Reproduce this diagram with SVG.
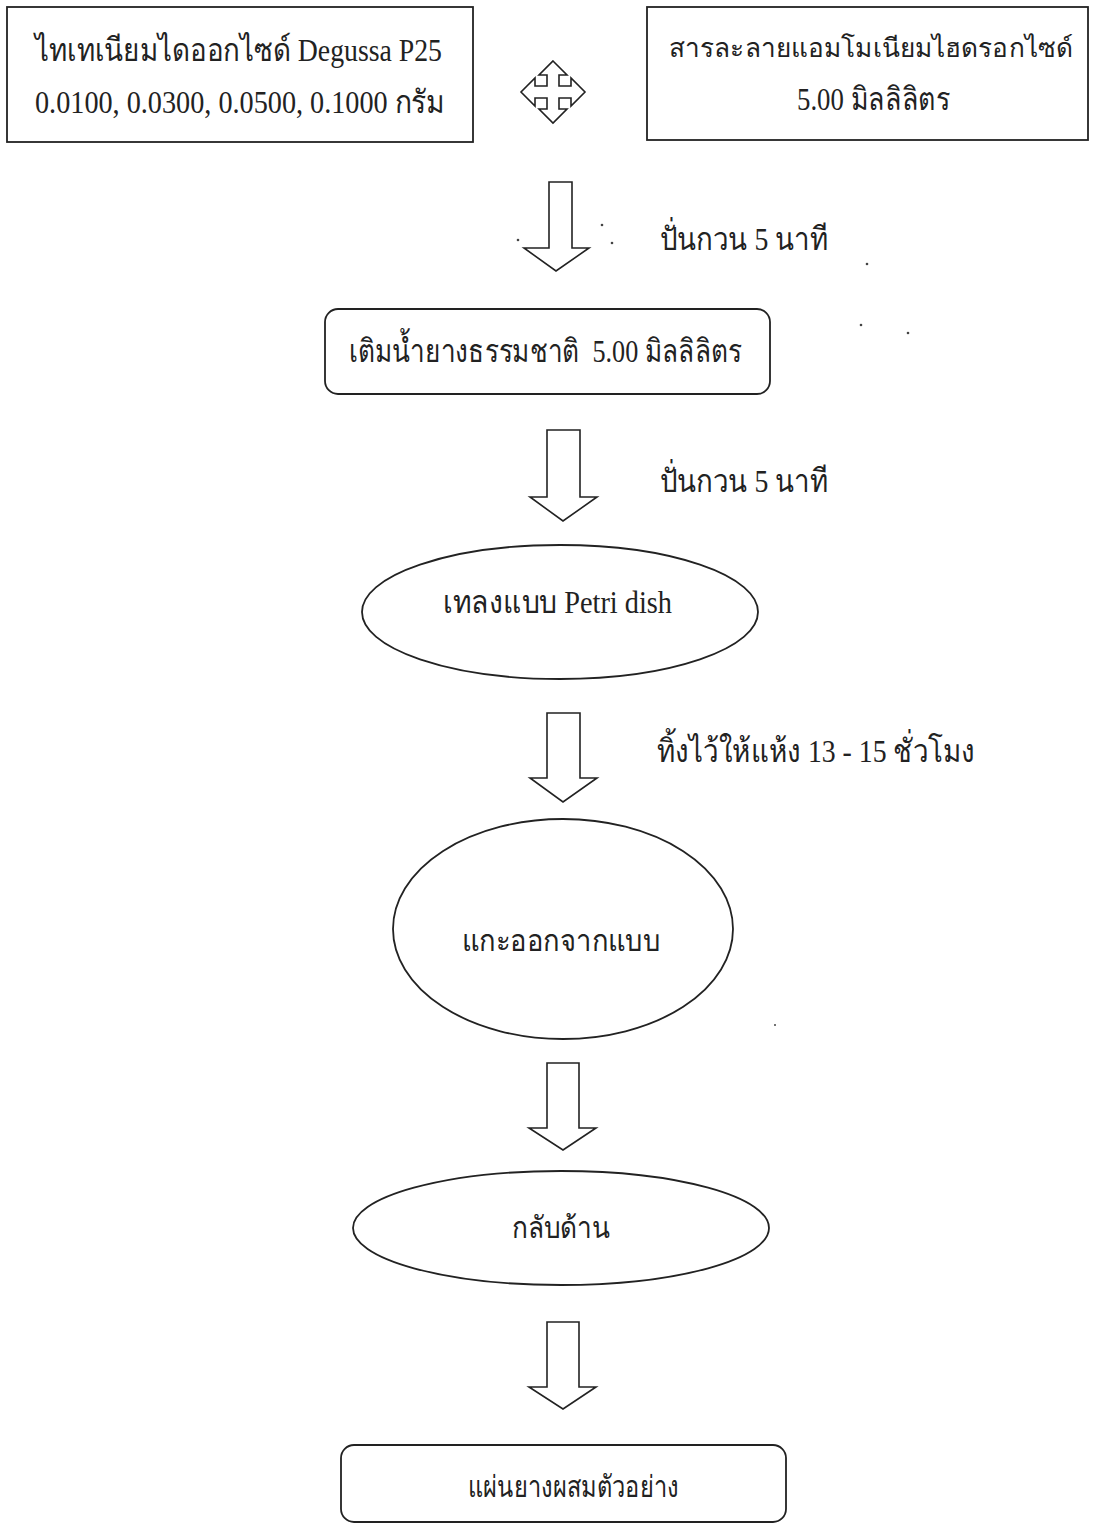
<svg xmlns="http://www.w3.org/2000/svg" width="1104" height="1524" viewBox="0 0 1104 1524">
<style>
.box{fill:#fff;stroke:#222;stroke-width:1.8}
.arr{fill:#fff;stroke:#222;stroke-width:1.6;stroke-linejoin:miter}
.t{font-family:"Liberation Serif","Noto Sans CJK SC",serif;font-size:32px;fill:#222;white-space:pre}
.s{font-family:"Liberation Sans","Noto Sans CJK SC",sans-serif;font-size:30px;fill:#222;white-space:pre}
.dot{fill:#444}
</style>
<rect width="1104" height="1524" fill="#fff"/>
<g id="node-tio2">
<rect class="box" x="7" y="7" width="466" height="135"/>
<text class="t" x="35" y="61" textLength="407" lengthAdjust="spacingAndGlyphs">ไทเทเนียมไดออกไซด์ Degussa P25</text>
<text class="t" x="35" y="113" textLength="410" lengthAdjust="spacingAndGlyphs">0.0100, 0.0300, 0.0500, 0.1000 กรัม</text>
</g>
<g id="node-ammonia">
<rect class="box" x="647" y="7" width="441" height="133"/>
<text class="t" x="669" y="57" textLength="404" lengthAdjust="spacingAndGlyphs" style="font-size:26px">สารละลายแอมโมเนียมไฮดรอกไซด์</text>
<text class="t" x="797" y="110" textLength="153" lengthAdjust="spacingAndGlyphs">5.00 มิลลิลิตร</text>
</g>
<g id="node-latex">
<rect class="box" x="325" y="309" width="445" height="85" rx="13"/>
<text class="t" x="349" y="362" textLength="393" lengthAdjust="spacingAndGlyphs">เติมน้ำยางธรรมชาติ  5.00 มิลลิลิตร</text>
</g>
<g id="node-petri">
<ellipse class="box" cx="560" cy="612" rx="198" ry="67"/>
<text class="t" x="443" y="613" textLength="229" lengthAdjust="spacingAndGlyphs">เทลงแบบ Petri dish</text>
</g>
<g id="node-remove">
<ellipse class="box" cx="563" cy="929" rx="170" ry="110"/>
<text class="s" x="462" y="951" textLength="198" lengthAdjust="spacingAndGlyphs">แกะออกจากแบบ</text>
</g>
<g id="node-flip">
<ellipse class="box" cx="561" cy="1228" rx="208" ry="57"/>
<text class="s" x="512" y="1238" textLength="98" lengthAdjust="spacingAndGlyphs">กลับด้าน</text>
</g>
<g id="node-sheet">
<rect class="box" x="341" y="1445" width="445" height="77" rx="13"/>
<text class="s" x="468" y="1497" textLength="211" lengthAdjust="spacingAndGlyphs">แผ่นยางผสมตัวอย่าง</text>
</g>
<g id="connectors">
<path class="arr" d="M553,61 L567,75 L559,75 L559,86 L571,86 L571,78 L585,92 L571,106 L571,98 L559,98 L559,109 L567,109 L553,123 L539,109 L547,109 L547,98 L535,98 L535,106 L521,92 L535,78 L535,86 L547,86 L547,75 L539,75 Z"/>
<path class="arr" d="M549,182 L572,182 L572,248 L589,248 L556,271 L524,248 L549,248 Z"/>
<path class="arr" d="M547,430 L580,430 L580,497 L597,497 L563,521 L530,497 L547,497 Z"/>
<path class="arr" d="M547,713 L580,713 L580,778 L597,778 L563,802 L530,778 L547,778 Z"/>
<path class="arr" d="M547,1063 L579,1063 L579,1128 L596,1128 L563,1150 L529,1128 L547,1128 Z"/>
<path class="arr" d="M547,1322 L579,1322 L579,1387 L596,1387 L563,1409 L529,1387 L547,1387 Z"/>
</g>
<g id="labels">
<text class="t" x="660" y="250" textLength="168" lengthAdjust="spacingAndGlyphs">ปั่นกวน 5 นาที</text>
<text class="t" x="660" y="492" textLength="168" lengthAdjust="spacingAndGlyphs">ปั่นกวน 5 นาที</text>
<text class="t" x="657" y="762" textLength="318" lengthAdjust="spacingAndGlyphs">ทิ้งไว้ให้แห้ง 13 - 15 ชั่วโมง</text>
</g>
<g id="specks">
<circle class="dot" cx="518" cy="240" r="1.3"/>
<circle class="dot" cx="602" cy="225" r="1.3"/>
<circle class="dot" cx="612" cy="243" r="1.3"/>
<circle class="dot" cx="867" cy="264" r="1.3"/>
<circle class="dot" cx="861" cy="325" r="1.3"/>
<circle class="dot" cx="908" cy="333" r="1.3"/>
<circle class="dot" cx="775" cy="1025" r="1"/>
</g>
</svg>
